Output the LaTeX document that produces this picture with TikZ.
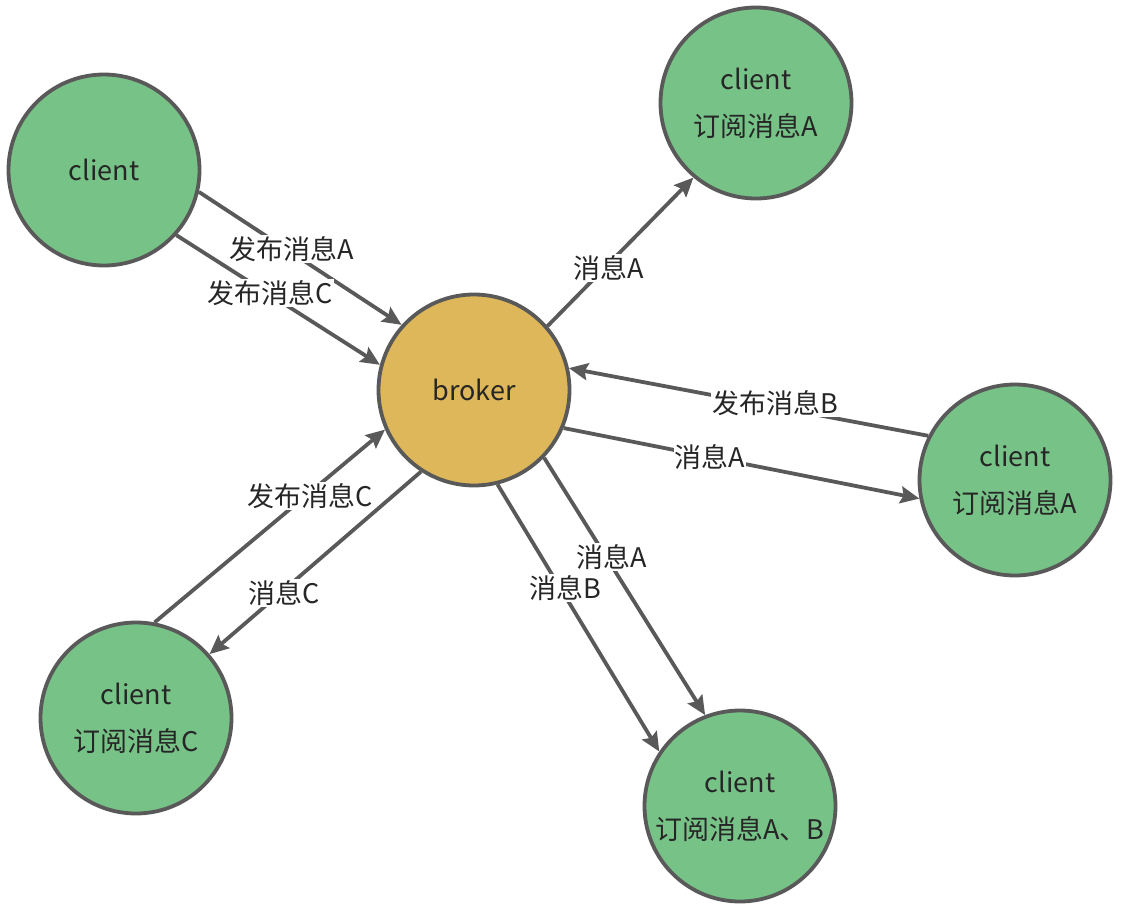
\documentclass[tikz,border=0pt]{standalone}
\usepackage{fontspec}
\setmainfont{Noto Sans CJK SC}
\usetikzlibrary{arrows.meta}
\definecolor{edgegray}{HTML}{595959}
\definecolor{clientgreen}{HTML}{77C387}
\definecolor{brokergold}{HTML}{DDB75A}
\definecolor{txt}{HTML}{262626}
\tikzset{
  peer/.style={circle, draw=edgegray, line width=3.8pt, minimum size=191pt, inner sep=0pt,
    align=center, text=txt, font=\fontsize{27}{47}\selectfont},
  clientnode/.style={peer, fill=clientgreen},
  brokernode/.style={peer, fill=brokergold},
  conn/.style={draw=edgegray, line width=3.8pt, -{Stealth[length=19pt,width=17pt,inset=3pt]}},
  lbl/.style={fill=white, text=txt, inner sep=1pt, font=\fontsize{27}{30}\selectfont}
}
\begin{document}
\begin{tikzpicture}[x=1pt,y=-1pt]
\useasboundingbox (0,0) rectangle (1124,910);
\node[brokernode] (B) at (474,390) {broker};
\node[clientnode] (TL) at (104,170) {client};
\node[clientnode] (TR) at (756,103) {client\\订阅消息A};
\node[clientnode] (R) at (1015,480) {client\\订阅消息A};
\node[clientnode] (BL) at (136,718) {client\\订阅消息C};
\node[clientnode] (BT) at (740,806) {client\\订阅消息A、B};

\draw[conn] (TL.-13.2) -- (B.138.2);
\draw[conn] (TL.-42.2) -- (B.165.8);
\draw[conn] (B.41.3) -- (TR.230.1);
\draw[conn] (R.153.2) -- (B.13.1);
\draw[conn] (B.-23.3) -- (R.191.3);
\draw[conn] (BL.79) -- (B.204.8);
\draw[conn] (B.237.6) -- (BL.41.8);
\draw[conn] (B.-44.6) -- (BT.111);
\draw[conn] (B.-76.7) -- (BT.146.3);

\node[lbl] (l1) at (292,249) {发布消息A};
\node[lbl] (l2) at (270,293) {发布消息C};
\node[lbl] (l3) at (609,268) {消息A};
\node[lbl] (l4) at (775,403) {发布消息B};
\node[lbl] (l5) at (710,457) {消息A};
\node[lbl] (l6) at (310,496) {发布消息C};
\node[lbl] (l7) at (284,593) {消息C};
\node[lbl] (l8) at (612,557) {消息A};
\node[lbl] (l9) at (565,588) {消息B};
\end{tikzpicture}
\end{document}
